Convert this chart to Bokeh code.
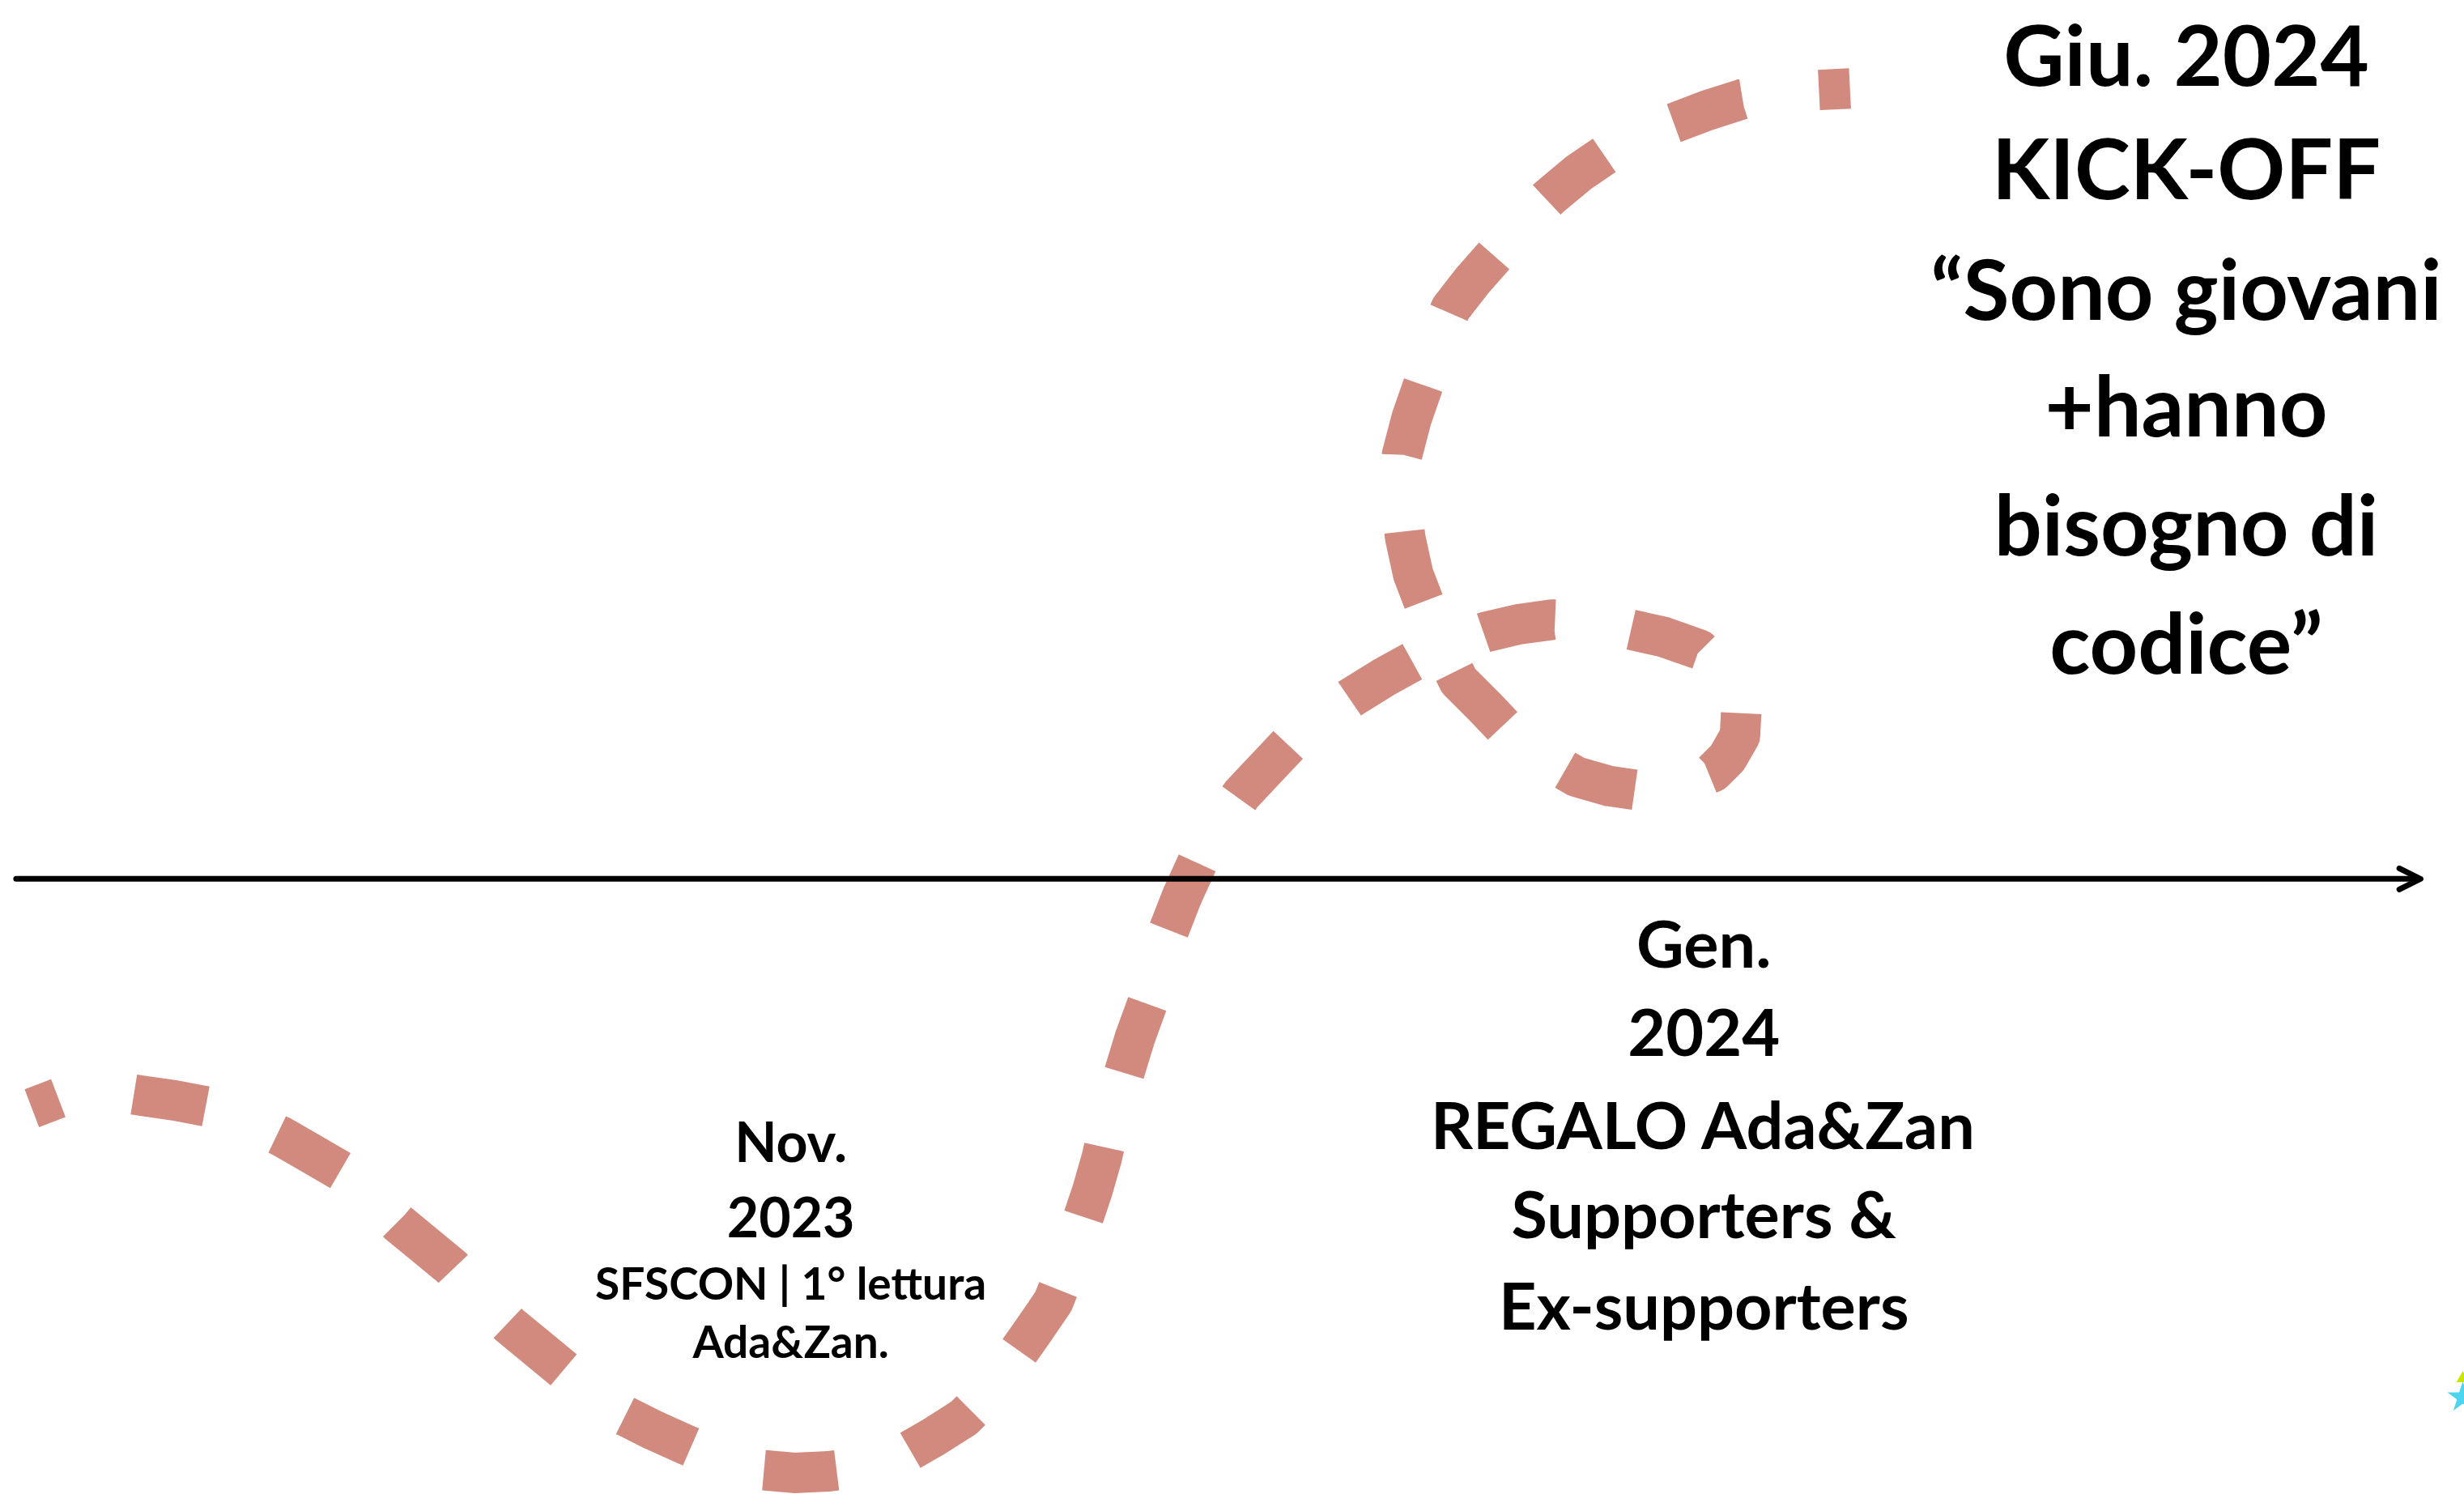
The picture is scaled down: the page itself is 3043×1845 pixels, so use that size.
from bokeh.plotting import figure
from bokeh.models import Range1d, ColumnDataSource, Arrow, OpenHead
from bokeh.core.properties import value
from bokeh.embed import file_html
from bokeh.resources import INLINE

# Reference is 3043x1845; data coordinates are in reference-thumbnail units (1568 wide)
W, H = 3043, 1845
S = W / 1568

# Dashed timeline path (x, y), top-down y
path_x = [20, 41, 65, 90, 111, 132, 156, 179, 198, 217, 236, 253, 270, 287, 305, 324, 341, 358, 377, 396,
          416, 436, 459, 483, 505, 527, 551, 575, 594, 613, 630, 645, 657, 670, 680, 688, 695, 701, 707, 715,
          722, 730, 736, 743, 752, 762, 775, 790, 806, 822, 840, 859, 880, 900, 922, 945, 966, 988, 1012, 1036,
          1058, 1081, 1097, 1108, 1107, 1099, 1090, 1068, 1045, 1024, 1003, 982, 961, 945, 928, 916, 907, 899,
          894, 891, 892, 898, 906, 913, 923, 937, 952, 968, 986, 1004, 1023, 1043, 1065, 1086, 1108, 1132, 1157, 1177]
path_y = [705, 697, 693, 697, 700, 704, 712, 723, 734, 745, 761, 778, 792, 806, 825, 843, 857, 871, 887, 900,
          910, 919, 929, 935, 937, 936, 933, 925, 914, 902, 885, 864, 847, 828, 803, 778, 757, 736, 709, 683,
          660, 638, 615, 593, 570, 548, 526, 505, 488, 471, 457, 444, 431, 420, 410, 402, 397, 394, 395, 400,
          405, 413, 429, 448, 468, 482, 491, 500, 503, 500, 494, 482, 467, 450, 433, 409, 386, 365,
          342, 315, 289, 266, 243, 219, 196, 178, 161, 142, 125, 110, 97, 86, 78, 70, 63, 59, 57, 56]

# Text blocks: lines, x centre, baselines
nov_lines = ["Nov.", "2023"]
nov_y = [740, 789]
nov_sub_lines = ["SFSCON | 1° lettura", "Ada&Zan."]
nov_sub_y = [828, 865]
nov_x = 503

gen_lines = ["Gen.", "2024", "REGALO Ada&Zan", "Supporters &", "Ex-supporters"]
gen_y = [617, 674, 732, 789, 847]
gen_x = 1084

giu_lines = ["Giu. 2024", "KICK-OFF", "\u201cSono giovani", "+hanno", "bisogno di", "codice\u201d"]
giu_y = [56, 128, 205, 279, 355, 430]
giu_x = 1391

axis_start = (10, 559)
axis_end = (1540, 559)

p = figure(width=W, height=H, output_backend="svg", toolbar_location=None,
           x_range=Range1d(0, W / S), y_range=Range1d(H / S, 0),
           x_axis_location=None, y_axis_location=None, min_border=0)
p.grid.visible = False
p.outline_line_color = None
p.background_fill_color = "white"
p.border_fill_color = "white"

# timeline axis arrow
p.add_layout(Arrow(x_start=axis_start[0], y_start=axis_start[1], x_end=axis_end[0], y_end=axis_end[1],
                   line_width=7, line_color="black", line_cap="round",
                   end=OpenHead(size=26, line_width=7, line_color="black", line_join="round", line_cap="round")))

# dashed curve
p.line(path_x, path_y, line_color="#D18A7D", line_width=50, line_dash="90 95", line_dash_offset=55,
       line_cap="butt", line_join="round")

def add_text(lines, ys, x, size_px):
    # shift so the glyph baseline lands on the given y
    adj = [y - 0.42 * size_px / S for y in ys]
    src = ColumnDataSource(dict(x=[x] * len(lines), y=adj, t=lines))
    p.text(x="x", y="y", text="t", source=src, text_font=value("Lato"), text_font_style="bold",
           text_font_size=f"{size_px}px", text_align="center", text_baseline="alphabetic",
           text_color="black")

add_text(nov_lines, nov_y, nov_x, 68)
add_text(nov_sub_lines, nov_sub_y, nov_x, 55)
add_text(gen_lines, gen_y, gen_x, 81)
add_text(giu_lines, giu_y, giu_x, 104)

# small decorative star at the bottom-right edge
p.scatter([1567], [877], marker="triangle", size=16, fill_color="#C8E600", line_color=None)
p.scatter([1567], [889], marker="star", size=40, fill_color="#4DD4F0", line_color=None)

open("out.html", "w").write(file_html(p, INLINE))
